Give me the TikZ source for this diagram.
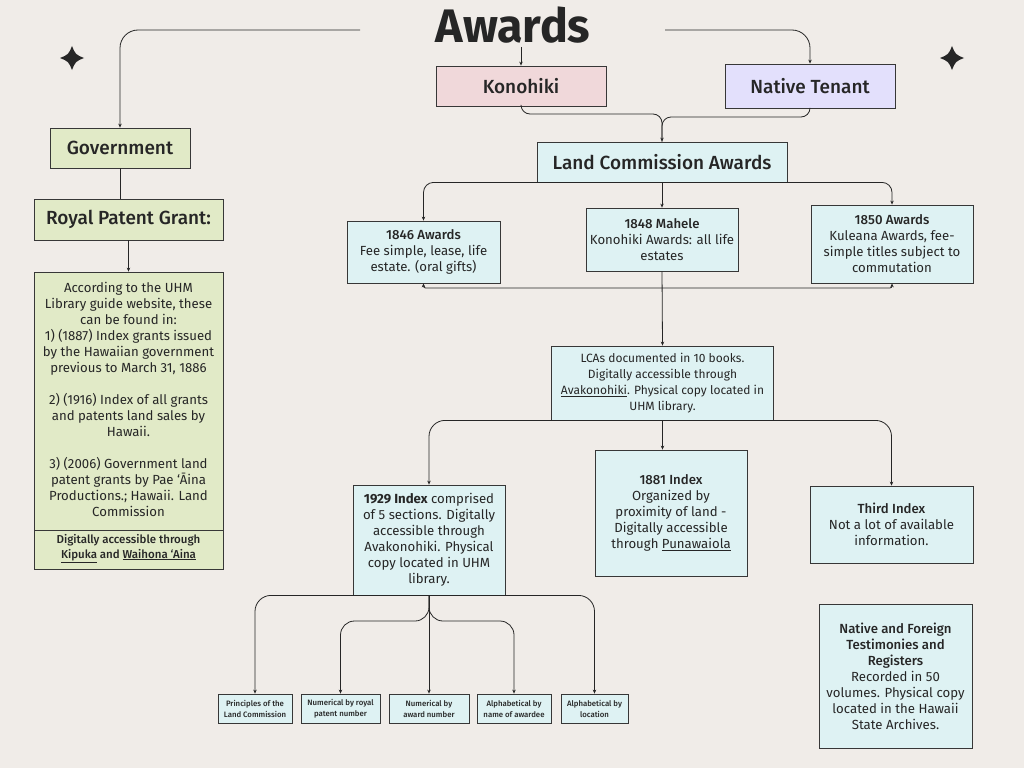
\documentclass[tikz,border=0pt]{standalone}
\usepackage{fontspec}
\setmainfont{Fira Sans}
\newfontfamily\medfont{Fira Sans Medium}
\usetikzlibrary{arrows.meta}
\definecolor{bgc}{RGB}{240,236,232}
\definecolor{cyanf}{RGB}{222,242,243}
\definecolor{greenf}{RGB}{225,234,199}
\definecolor{pinkf}{RGB}{240,216,218}
\definecolor{lavf}{RGB}{227,224,252}
\definecolor{bord}{RGB}{55,55,55}
\definecolor{txt}{RGB}{38,38,38}
\newcommand{\headf}{\fontsize{19}{22}\selectfont\medfont}
\newcommand{\bodyf}{\fontsize{13.2}{16}\selectfont}
\newcommand{\tinyf}{\fontsize{7.8}{11}\selectfont\medfont}
\begin{document}
\begin{tikzpicture}[x=1pt,y=-1pt,
  box/.style={draw=bord, line width=0.8pt, fill=cyanf, inner sep=0pt, align=center, text=txt, anchor=center},
  gbox/.style={box, fill=greenf},
  smallbox/.style={box, minimum height=29, font=\tinyf},
  conn/.style={draw=txt, line width=0.8pt},
  arr/.style={conn, -{Stealth[length=4pt,width=3.5pt]}},
  titlef/.style={font=\fontsize{47}{47}\selectfont\bfseries, text=txt, inner sep=0pt}]
\useasboundingbox (0,0) rectangle (1024,768);
\fill[bgc] (0,0) rectangle (1024,768);

% stars
\foreach \cx/\cy in {72/58, 952/58}{
  \fill[txt] (\cx,\cy-12) .. controls (\cx+3.5,\cy-3.5) .. (\cx+12,\cy)
    .. controls (\cx+3.5,\cy+3.5) .. (\cx,\cy+12)
    .. controls (\cx-3.5,\cy+3.5) .. (\cx-12,\cy)
    .. controls (\cx-3.5,\cy-3.5) .. (\cx,\cy-12) -- cycle;
}

% title
\node[titlef] (title) at (513,25) {\scalebox{0.99}[1]{Awards}};
\coordinate (tl) at (360,30);
\coordinate (tr) at (665,30);
\coordinate (tm) at (521,47);

% top boxes
\node[box, fill=pinkf, minimum width=170, minimum height=40] (kono) at (521,86) {\headf Konohiki};
\node[box, fill=lavf, minimum width=170, minimum height=44] (nat) at (810,86) {\headf Native Tenant};
\node[box, minimum width=250, minimum height=40] (lca) at (662,162) {\headf Land Commission Awards};

% left column
\node[gbox, minimum width=140, minimum height=40] (gov) at (120,148) {\headf Government};
\node[gbox, minimum width=189, minimum height=41] (royal) at (128.5,219.5) {\headf Royal Patent Grant:};
\node[gbox, minimum width=189, minimum height=297] (big) at (128.5,420.5) {};
\draw[draw=bord, line width=0.8pt] (34,530) -- (223,530);
\node[text=txt, align=center, inner sep=0pt, font=\bodyf] (bigtxt) at (128.5,399)
  {According to the UHM\\Library guide website, these\\can be found in:\\1) (1887) Index grants issued\\by the Hawaiian government\\previous to March 31, 1886\\[16pt]2) (1916) Index of all grants\\and patents land sales by\\Hawaii.\\[16pt]3) (2006) Government land\\patent grants by Pae ‘Āina\\Productions.; Hawaii. Land\\Commission};
\node[text=txt, align=center, inner sep=0pt, font=\fontsize{11.5}{14.5}\selectfont\medfont] (bigfoot) at (128.5,548.5)
  {Digitally accessible through\\\underline{Kipuka} and \underline{Waihona ‘Aina}};

% award boxes
\node[box, minimum width=153, minimum height=62, font=\bodyf] (a46) at (423.5,252)
  {{\medfont 1846 Awards}\\Fee simple, lease, life\\estate. (oral gifts)};
\node[box, minimum width=152, minimum height=63, font=\bodyf] (m48) at (662,239.5)
  {{\medfont 1848 Mahele}\\Konohiki Awards: all life\\estates};
\node[box, minimum width=162, minimum height=78, font=\bodyf] (a50) at (892,244)
  {{\medfont 1850 Awards}\\Kuleana Awards, fee-\\simple titles subject to\\commutation};

\coordinate (j) at (662,288);

\node[box, minimum width=222, minimum height=74, font=\fontsize{12}{16}\selectfont] (lcas) at (662.5,383)
  {LCAs documented in 10 books.\\Digitally accessible through\\\underline{Avakonohiki}. Physical copy located in\\UHM library.};

\node[box, minimum width=152, minimum height=110, font=\bodyf] (i29) at (429,540)
  {{\bfseries 1929 Index} comprised\\of 5 sections. Digitally\\accessible through\\Avakonohiki. Physical\\copy located in UHM\\library.};
\node[box, minimum width=152, minimum height=126, font=\bodyf] (i81) at (671,513)
  {{\medfont 1881 Index}\\Organized by\\proximity of land -\\Digitally accessible\\through \underline{Punawaiola}};
\node[box, minimum width=163, minimum height=77, font=\bodyf] (third) at (891.5,524.5)
  {{\medfont Third Index}\\Not a lot of available\\information.};
\node[box, minimum width=153, minimum height=144, font=\bodyf] (nf) at (895.5,676)
  {{\medfont Native and Foreign}\\{\medfont Testimonies and}\\{\medfont Registers}\\Recorded in 50\\volumes. Physical copy\\located in the Hawaii\\State Archives.};

% small boxes
\node[smallbox, minimum width=74] (p1) at (255,708.5) {Principles of the\\Land Commission};
\node[smallbox, minimum width=79] (p2) at (340.5,708.5) {Numerical by royal\\patent number};
\node[smallbox, minimum width=80] (p3) at (429,708.5) {Numerical by\\award number};
\node[smallbox, minimum width=74] (p4) at (514,708.5) {Alphabetical by\\name of awardee};
\node[smallbox, minimum width=67] (p5) at (594.5,708.5) {Alphabetical by\\location};

% connectors
\draw[arr, rounded corners=18] (tl) -| (gov.north);
\draw[arr, rounded corners=18] (tr) -| (nat.north);
\draw[arr] (tm) -- (kono.north);

\draw[arr, rounded corners=9] (kono.south) |- (662,114) -- (lca.north);
\draw[conn, rounded corners=9] (nat.south) |- (662,117) -- (lca.north);

\draw[arr, rounded corners=10] (lca.south) -| (a46.north);
\draw[arr, rounded corners=10] (lca.south) -| (a50.north);
\draw[arr] (lca.south) -- (m48.north);

\draw[arr, rounded corners=2] (j) -| (a46.south);
\draw[arr, rounded corners=2] (j) -| (a50.south);
\draw[arr] (m48.south) -- (lcas.north);

\draw[arr, rounded corners=16] (lcas.south) -| (i29.north);
\draw[arr, rounded corners=16] (lcas.south) -| (third.north);
\draw[arr] (lcas.south) -- (lcas.south |- i81.north);

\draw[conn] (gov.south) -- (gov.south |- royal.north);
\draw[arr] (royal.south) -- (big.north);

\draw[arr, rounded corners=16] (i29.south) -| (p1.north);
\draw[arr, rounded corners=16] (i29.south) -| (p5.north);
\draw[arr, rounded corners=14] (i29.south) |- (340.5,621) -- (p2.north);
\draw[arr, rounded corners=14] (i29.south) |- (514,621) -- (p4.north);
\draw[arr] (i29.south) -- (p3.north);
\end{tikzpicture}
\end{document}
